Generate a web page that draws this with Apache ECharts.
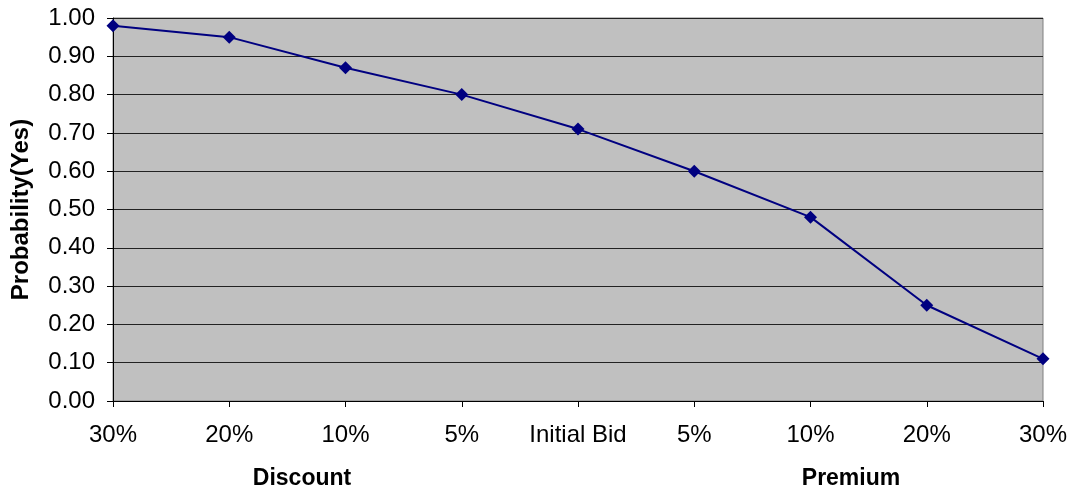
<!DOCTYPE html>
<html><head><meta charset="utf-8">
<script src="https://cdn.jsdelivr.net/npm/echarts@6/dist/echarts.min.js"></script>
<style>html,body{margin:0;padding:0;background:#fff}#c{width:1073px;height:497px}</style>
</head><body><div id="c"></div>
<script>
const categories = ['30%', '20%', '10%', '5%', 'Initial Bid', '5%', '10%', '20%', '30%'];
const probability = [0.98, 0.95, 0.87, 0.80, 0.71, 0.60, 0.48, 0.25, 0.11];
const yTitle = 'Probability(Yes)';
const groupLabels = ['Discount', 'Premium'];

const chart = echarts.init(document.getElementById('c'));
const font = 'Liberation Sans, Arial, sans-serif';
chart.setOption({
  animation: false,
  grid: { left: 113, right: 30, top: 18, bottom: 96, show: true, backgroundColor: '#C0C0C0', borderColor: '#808080', borderWidth: 1 },
  xAxis: {
    type: 'category', data: categories, boundaryGap: false,
    axisLine: { lineStyle: { color: '#000', width: 1 } },
    axisTick: { show: true, length: 6, inside: false, lineStyle: { color: '#000' } },
    axisLabel: { color: '#000', fontSize: 24, fontFamily: font, margin: 22, interval: 0 },
    splitLine: { show: false }
  },
  yAxis: {
    type: 'value', min: 0, max: 1, interval: 0.1,
    name: yTitle, nameLocation: 'middle', nameGap: 80, nameRotate: 90,
    nameTextStyle: { color: '#000', fontSize: 24, fontWeight: 'bold', fontFamily: font },
    axisLine: { show: true, lineStyle: { color: '#000', width: 1 } },
    axisTick: { show: true, length: 6, lineStyle: { color: '#000' } },
    axisLabel: { color: '#000', fontSize: 24, fontFamily: font, margin: 18, formatter: v => v.toFixed(2) },
    splitLine: { show: true, lineStyle: { color: '#222', width: 1 } }
  },
  graphic: [
    { type: 'text', x: 302, y: 479, style: { text: groupLabels[0], fill: '#000', font: 'bold 23px ' + font, textAlign: 'center', textVerticalAlign: 'middle' } },
    { type: 'text', x: 851, y: 479, style: { text: groupLabels[1], fill: '#000', font: 'bold 23px ' + font, textAlign: 'center', textVerticalAlign: 'middle' } }
  ],
  series: [{
    type: 'line', data: probability,
    symbol: 'diamond', symbolSize: 13,
    lineStyle: { color: '#000080', width: 2 },
    itemStyle: { color: '#000080' }
  }]
});
</script></body></html>
